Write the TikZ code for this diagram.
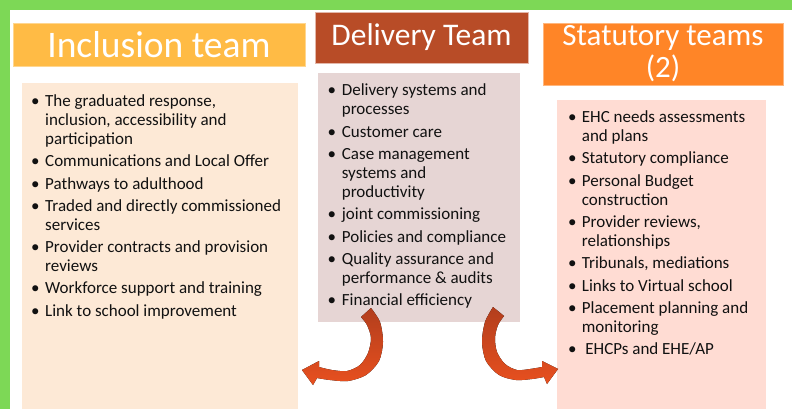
\documentclass[tikz,border=0pt]{standalone}
\usepackage{fontspec}
\setmainfont{Carlito}
\definecolor{grn}{HTML}{7DD856}
\definecolor{inclH}{HTML}{FFBB45}
\definecolor{inclB}{HTML}{FDE9D6}
\definecolor{delH}{HTML}{B84C27}
\definecolor{delB}{HTML}{E6D5D4}
\definecolor{statH}{HTML}{FF8527}
\definecolor{statB}{HTML}{FFDCD3}
\definecolor{arrdark}{HTML}{B23E1D}
\definecolor{arrlight}{HTML}{E8501F}
\definecolor{txt}{HTML}{111111}
\newlength\bulw
\newcommand\bul{\makebox[\bulw][l]{•}}
\newcommand\ig{3.3pt}
\tikzset{
  hdr/.style={inner sep=0pt, text=white, align=center},
  bodybox/.style={inner sep=0pt, anchor=north west},
  list/.style={inner sep=0pt, anchor=base west, text=txt, font=\fontsize{17}{19}\selectfont},
  arrowfill/.style={top color=arrdark, bottom color=arrlight}
}
\begin{document}
\begin{tikzpicture}[x=1pt,y=-1pt]
\useasboundingbox (0,0) rectangle (792,409);
\fill[white] (0,0) rectangle (792,409);
\fill[grn] (0,0) rectangle (792,10.5);
\fill[grn] (0,0) rectangle (10,409);

% headers
\node[hdr, fill=inclH, draw=inclH!60!white, line width=0.6pt, minimum width=292pt, minimum height=43pt, font=\fontsize{37.5}{40}\selectfont] (ih) at (159,44.5) {Inclusion team};
\node[hdr, fill=delH, draw=delH!40!white, line width=0.6pt, minimum width=213pt, minimum height=51pt, font=\fontsize{31.5}{33}\selectfont] (dh) at (421.5,37.5) {Delivery Team};
\node[hdr, fill=statH, draw=statH!60!white, line width=0.6pt, minimum width=240pt, minimum height=62pt, font=\fontsize{31}{32}\selectfont] (sh) at (663,54) {Statutory teams\\(2)};

% body boxes
\node[bodybox, fill=inclB, minimum width=276pt, minimum height=326pt] (ib) at (22,83) {};
\node[bodybox, fill=delB, minimum width=202pt, minimum height=249pt] (db) at (318,73) {};
\node[bodybox, fill=statB, minimum width=209pt, minimum height=309pt] (sb) at (557,100) {};

% lists
\node[list] (il) at (31,106.5) {\setlength\bulw{14pt}%
\begin{tabular}[t]{@{}l@{}l@{}}
\bul & The graduated response,\\
 & inclusion, accessibility and\\
 & participation\\[\ig]
\bul & Communications and Local Offer\\[\ig]
\bul & Pathways to adulthood\\[\ig]
\bul & Traded and directly commissioned\\
 & services\\[\ig]
\bul & Provider contracts and provision\\
 & reviews\\[\ig]
\bul & Workforce support and training\\[\ig]
\bul & Link to school improvement
\end{tabular}};

\node[list] (dl) at (327.5,96) {\setlength\bulw{14.2pt}%
\begin{tabular}[t]{@{}l@{}l@{}}
\bul & Delivery systems and\\
 & processes\\[\ig]
\bul & Customer care\\[\ig]
\bul & Case management\\
 & systems and\\
 & productivity\\[\ig]
\bul & joint commissioning\\[\ig]
\bul & Policies and compliance\\[\ig]
\bul & Quality assurance and\\
 & performance \& audits\\[\ig]
\bul & Financial efficiency
\end{tabular}};

\node[list] (sl) at (568,122.5) {\setlength\bulw{13.7pt}%
\begin{tabular}[t]{@{}l@{}l@{}}
\bul & EHC needs assessments\\
 & and plans\\[\ig]
\bul & Statutory compliance\\[\ig]
\bul & Personal Budget\\
 & construction\\[\ig]
\bul & Provider reviews,\\
 & relationships\\[\ig]
\bul & Tribunals, mediations\\[\ig]
\bul & Links to Virtual school\\[\ig]
\bul & Placement planning and\\
 & monitoring\\[\ig]
\bul & \hspace{3.5pt}EHCPs and EHE/AP
\end{tabular}};

% curved arrows
\fill[arrowfill]
  plot[smooth] coordinates {(371,308) (380,322) (383,342) (379,361) (366,375) (348,381) (330,380) (317,378)}
  -- (313,385) -- (302,370) -- (319,361)
  -- plot[smooth] coordinates {(319,367) (332,370) (347,371) (360,365) (368,353) (371,338) (367,325) (361,317)}
  -- cycle;
\fill[arrowfill]
  plot[smooth] coordinates {(493,307) (485,322) (482,342) (486,361) (499,375) (516,380) (532,379) (544,377)}
  -- (547,384) -- (558,369) -- (542,361)
  -- plot[smooth] coordinates {(542,367) (530,369) (517,370) (505,364) (497,352) (495,338) (498,325) (504,316)}
  -- cycle;
\end{tikzpicture}
\end{document}
